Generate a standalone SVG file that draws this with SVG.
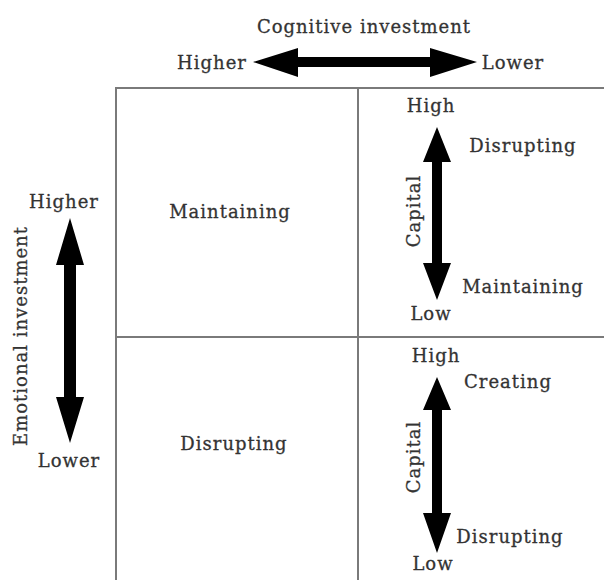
<svg xmlns="http://www.w3.org/2000/svg" width="604" height="580" viewBox="0 0 604 580">
  <style>
    .t { font-family: "DejaVu Serif", "Liberation Serif", serif; font-size: 18px; letter-spacing: 1px; fill: #333; stroke: #333; stroke-width: 0.3; }
    .grid { stroke: #7a7a7a; stroke-width: 2; fill: none; }
    .arrow { fill: #000; }
  </style>
  <rect width="604" height="580" fill="#fff"/>

  <!-- quadrant grid -->
  <g id="grid">
    <path class="grid" d="M116,580 V88 H604 M358,88 V580 M116,337 H604"/>
  </g>

  <!-- axis labels -->
  <g id="axis-cognitive">
    <text class="t" x="364" y="33" text-anchor="middle">Cognitive investment</text>
    <text class="t" x="212" y="69" text-anchor="middle">Higher</text>
    <text class="t" x="513" y="69" text-anchor="middle">Lower</text>
  </g>
  <g id="axis-emotional">
    <text class="t" x="64" y="208" text-anchor="middle">Higher</text>
    <text class="t" x="69" y="467" text-anchor="middle">Lower</text>
    <text class="t" transform="translate(27,336) rotate(-90)" text-anchor="middle">Emotional investment</text>
  </g>

  <!-- quadrants -->
  <g id="q-top-left">
    <text class="t" x="230" y="218" text-anchor="middle">Maintaining</text>
  </g>
  <g id="q-bottom-left">
    <text class="t" x="234" y="450" text-anchor="middle">Disrupting</text>
  </g>
  <g id="q-top-right">
    <text class="t" x="431" y="112" text-anchor="middle">High</text>
    <text class="t" x="523" y="152" text-anchor="middle">Disrupting</text>
    <text class="t" x="523" y="293" text-anchor="middle">Maintaining</text>
    <text class="t" x="431" y="320" text-anchor="middle">Low</text>
    <text class="t" transform="translate(420,211) rotate(-90)" text-anchor="middle">Capital</text>
  </g>
  <g id="q-bottom-right">
    <text class="t" x="436" y="362" text-anchor="middle">High</text>
    <text class="t" x="508" y="388" text-anchor="middle">Creating</text>
    <text class="t" x="510" y="543" text-anchor="middle">Disrupting</text>
    <text class="t" x="433" y="570" text-anchor="middle">Low</text>
    <text class="t" transform="translate(420,457) rotate(-90)" text-anchor="middle">Capital</text>
  </g>

  <!-- double-headed arrows -->
  <g id="arrows">
    <polygon class="arrow" points="253,62 298,48 298,57 430,57 430,48 477,62 430,77 430,67 298,67 298,77"/>
    <polygon class="arrow" points="70,218 84,265 76,265 76,397 84,397 70,443 56,397 64,397 64,265 56,265"/>
    <polygon class="arrow" points="437,127 451,162 442,162 442,263 451,263 437,300 423,263 432,263 432,162 423,162"/>
    <polygon class="arrow" points="437,377 451,410 442,410 442,513 451,513 437,553 423,513 432,513 432,410 423,410"/>
  </g>
</svg>
